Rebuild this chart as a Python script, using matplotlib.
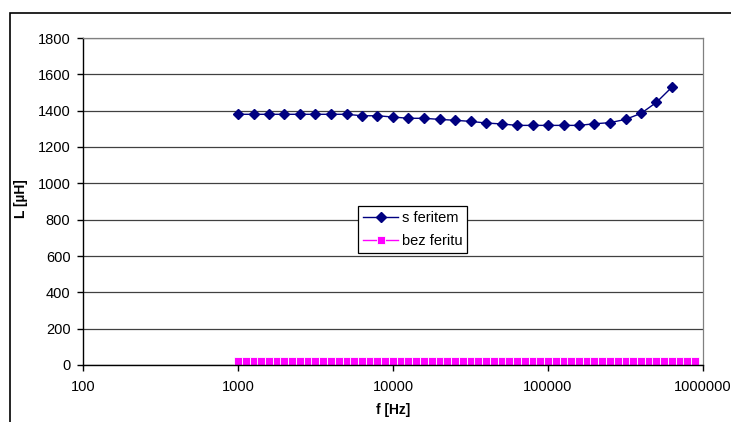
import matplotlib
matplotlib.use("Agg")
import matplotlib.pyplot as plt
from matplotlib.patches import Rectangle
from matplotlib.ticker import FixedLocator, FixedFormatter, NullLocator

plt.rcParams['font.family'] = ['Liberation Sans', 'DejaVu Sans']

# s feritem
f_ferit = [1000, 1259, 1585, 1995, 2512, 3162, 3981, 5012, 6310, 7943,
           10000, 12589, 15849, 19953, 25119, 31623, 39811, 50119, 63096, 79433,
           100000, 125893, 158489, 199526, 251189, 316228, 398107, 501187, 630957]
L_ferit = [1380, 1380, 1380, 1380, 1380, 1380, 1380, 1380, 1372, 1372,
           1365, 1358, 1358, 1352, 1347, 1341, 1332, 1327, 1319, 1319,
           1319, 1319, 1319, 1328, 1334, 1352, 1385, 1446, 1530]

# bez feritu
f_bez = [1000, 1122, 1259, 1413, 1585, 1778, 1995, 2239, 2512, 2818,
         3162, 3548, 3981, 4467, 5012, 5623, 6310, 7079, 7943, 8913,
         10000, 11220, 12589, 14125, 15849, 17783, 19953, 22387, 25119, 28184,
         31623, 35481, 39811, 44668, 50119, 56234, 63096, 70795, 79433, 89125,
         100000, 112202, 125893, 141254, 158489, 177828, 199526, 223872, 251189, 281838,
         316228, 354813, 398107, 446684, 501187, 562341, 630957, 707946, 794328, 891251]
L_bez = [22, 22, 22, 22, 22, 22, 22, 22, 22, 22,
         22, 22, 22, 22, 22, 22, 22, 22, 22, 22,
         22, 22, 22, 22, 22, 22, 22, 22, 22, 22,
         22, 22, 22, 22, 22, 22, 22, 22, 22, 22,
         22, 22, 22, 22, 22, 22, 22, 22, 22, 22,
         22, 22, 22, 22, 22, 22, 22, 22, 22, 22]

x_ticks = [100, 1000, 10000, 100000, 1000000]
x_labels = ['100', '1000', '10000', '100000', '1000000']
y_ticks = [0, 200, 400, 600, 800, 1000, 1200, 1400, 1600, 1800]

W, H = 731, 422
fig = plt.figure(figsize=(W / 100, H / 100), dpi=100)

# outer chart frame (right and bottom edges run off the picture)
fig.patches.append(Rectangle((10 / W, -0.05), 1.1, 1 - 13 / H + 0.05,
                             transform=fig.transFigure, fill=False,
                             edgecolor='black', linewidth=1.2))

ax = fig.add_axes([83 / W, 1 - 365 / H, (703 - 83) / W, (365 - 38) / H])

ax.plot(f_ferit, L_ferit, color='#000080', marker='D', markersize=5,
        linewidth=1, label='s feritem', clip_on=False)
ax.plot(f_bez, L_bez, color='#FF00FF', marker='s', markersize=5.6,
        markeredgewidth=0.6, markeredgecolor='white', linewidth=1,
        label='bez feritu', clip_on=False)

ax.set_xscale('log')
ax.set_xlim(100, 1000000)
ax.set_ylim(0, 1800)
ax.xaxis.set_major_locator(FixedLocator(x_ticks))
ax.xaxis.set_major_formatter(FixedFormatter(x_labels))
ax.xaxis.set_minor_locator(NullLocator())
ax.set_yticks(y_ticks)

ax.grid(axis='y', color='#404040', linewidth=0.9)
ax.set_axisbelow(True)

for s in ['top', 'right']:
    ax.spines[s].set_color('#808080')
    ax.spines[s].set_linewidth(0.9)
for s in ['left', 'bottom']:
    ax.spines[s].set_color('black')
    ax.spines[s].set_linewidth(1)

ax.tick_params(axis='both', direction='out', length=4, width=1,
               labelsize=10.5, colors='black')
ax.tick_params(axis='x', pad=7)
ax.tick_params(axis='y', pad=5)

fig.text(21 / W, 1 - 199 / H, 'L [µH]', rotation=90, ha='center', va='center',
         fontsize=10, fontweight='bold')
fig.text(393 / W, 1 - 410 / H, 'f [Hz]', ha='center', va='center',
         fontsize=10, fontweight='bold')

leg = ax.legend(loc='upper left', bbox_to_anchor=((358 - 83) / 620, (365 - 206) / 327),
                fontsize=10.5, frameon=True, fancybox=False, framealpha=1,
                edgecolor='black', borderpad=0.35, handlelength=2.4,
                handletextpad=0.25, labelspacing=0.6, borderaxespad=0)
leg.get_frame().set_linewidth(0.9)

fig.savefig('out.png', dpi=100)
